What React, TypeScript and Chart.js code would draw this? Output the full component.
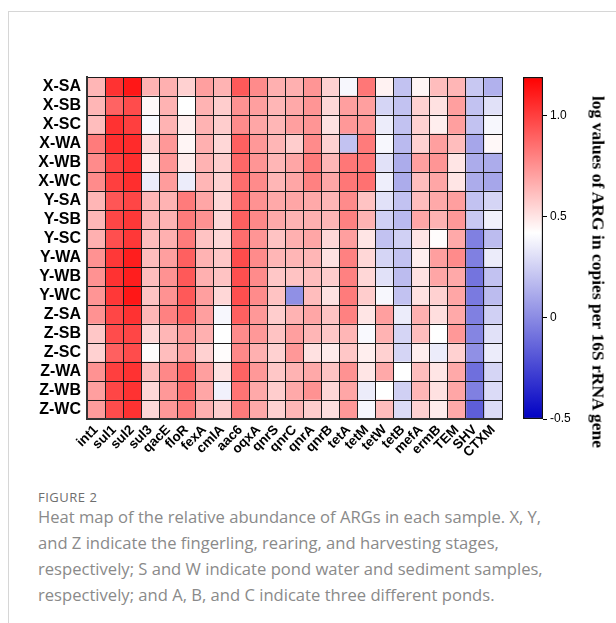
import React, { useEffect, useRef } from 'react';
import { Chart, registerables } from 'chart.js';

Chart.register(...registerables);

// ---- Data -----------------------------------------------------------------
const SAMPLES = ['X-SA', 'X-SB', 'X-SC', 'X-WA', 'X-WB', 'X-WC', 'Y-SA', 'Y-SB', 'Y-SC', 'Y-WA', 'Y-WB', 'Y-WC', 'Z-SA', 'Z-SB', 'Z-SC', 'Z-WA', 'Z-WB', 'Z-WC'];
const GENES = ['int1', 'sul1', 'sul2', 'sul3', 'qacE', 'floR', 'fexA', 'cmlA', 'aac6', 'oqxA', 'qnrS', 'qnrC', 'qnrA', 'qnrB', 'tetA', 'tetM', 'tetW', 'tetB', 'mefA', 'ermB', 'TEM', 'SHV', 'CTXM'];

// log values per sample (one array per row, in GENES order)
const X_SA = [0.64, 1.04, 1.12, 0.65, 0.66, 0.56, 0.71, 0.65, 0.92, 0.77, 0.66, 0.66, 0.74, 0.56, 0.39, 0.83, 0.46, 0.20, 0.45, 0.62, 0.64, 0.22, 0.14];
const X_SB = [0.64, 0.89, 0.96, 0.44, 0.65, 0.42, 0.65, 0.57, 0.75, 0.71, 0.64, 0.68, 0.74, 0.54, 0.71, 0.71, 0.27, 0.20, 0.56, 0.51, 0.71, 0.20, 0.31];
const X_SC = [0.62, 1.04, 1.00, 0.40, 0.65, 0.47, 0.65, 0.57, 0.77, 0.69, 0.64, 0.71, 0.74, 0.51, 0.73, 0.73, 0.35, 0.20, 0.56, 0.47, 0.71, 0.20, 0.39];
const X_WA = [0.82, 1.05, 1.06, 0.53, 0.73, 0.45, 0.66, 0.54, 0.90, 0.73, 0.64, 0.57, 0.77, 0.56, 0.20, 0.82, 0.39, 0.17, 0.56, 0.71, 0.62, 0.10, 0.44];
const X_WB = [0.77, 0.99, 1.05, 0.47, 0.74, 0.48, 0.65, 0.57, 0.88, 0.74, 0.64, 0.69, 0.82, 0.64, 0.83, 0.83, 0.31, 0.12, 0.71, 0.74, 0.50, 0.12, 0.12];
const X_WC = [0.77, 1.00, 1.05, 0.35, 0.72, 0.35, 0.64, 0.56, 0.86, 0.77, 0.64, 0.69, 0.80, 0.69, 0.83, 0.85, 0.36, 0.12, 0.62, 0.69, 0.50, 0.12, 0.10];
const Y_SA = [0.64, 0.93, 0.98, 0.64, 0.65, 0.82, 0.69, 0.54, 0.86, 0.75, 0.68, 0.69, 0.68, 0.64, 0.77, 0.60, 0.31, 0.20, 0.62, 0.68, 0.71, 0.20, 0.27];
const Y_SB = [0.64, 0.98, 1.02, 0.64, 0.65, 0.82, 0.75, 0.54, 0.90, 0.78, 0.68, 0.65, 0.66, 0.64, 0.80, 0.65, 0.25, 0.17, 0.69, 0.65, 0.73, 0.22, 0.37];
const Y_SC = [0.66, 0.95, 1.02, 0.62, 0.66, 0.82, 0.60, 0.54, 0.86, 0.74, 0.60, 0.66, 0.69, 0.54, 0.71, 0.50, 0.20, 0.25, 0.50, 0.43, 0.68, -0.04, 0.18];
const Y_WA = [0.75, 1.02, 1.10, 0.62, 0.71, 0.90, 0.65, 0.59, 0.96, 0.77, 0.64, 0.64, 0.64, 0.51, 0.80, 0.54, 0.27, 0.20, 0.47, 0.71, 0.77, -0.04, 0.35];
const Y_WB = [0.75, 1.04, 1.10, 0.62, 0.75, 0.92, 0.66, 0.60, 0.95, 0.77, 0.59, 0.60, 0.62, 0.57, 0.80, 0.54, 0.31, 0.18, 0.51, 0.69, 0.68, -0.08, 0.20];
const Y_WC = [0.74, 1.02, 1.12, 0.60, 0.75, 0.92, 0.71, 0.54, 0.95, 0.77, 0.60, 0.02, 0.62, 0.51, 0.82, 0.57, 0.39, 0.20, 0.51, 0.56, 0.69, -0.06, 0.18];
const Z_SA = [0.75, 0.98, 1.04, 0.64, 0.80, 0.89, 0.71, 0.39, 0.90, 0.73, 0.57, 0.65, 0.69, 0.60, 0.80, 0.50, 0.71, 0.35, 0.66, 0.52, 0.68, -0.04, 0.25];
const Z_SB = [0.59, 0.96, 0.98, 0.54, 0.64, 0.73, 0.66, 0.42, 0.77, 0.73, 0.60, 0.71, 0.64, 0.59, 0.64, 0.40, 0.65, 0.27, 0.62, 0.42, 0.73, -0.02, 0.31];
const Z_SC = [0.56, 0.90, 0.96, 0.43, 0.62, 0.71, 0.56, 0.43, 0.78, 0.66, 0.56, 0.73, 0.51, 0.48, 0.59, 0.47, 0.56, 0.27, 0.47, 0.35, 0.56, 0.02, 0.35];
const Z_WA = [0.75, 1.00, 1.04, 0.62, 0.78, 0.89, 0.71, 0.51, 0.89, 0.73, 0.59, 0.65, 0.68, 0.60, 0.75, 0.50, 0.68, 0.42, 0.62, 0.50, 0.68, -0.10, 0.27];
const Z_WB = [0.71, 0.98, 1.04, 0.54, 0.73, 0.86, 0.69, 0.37, 0.84, 0.68, 0.57, 0.68, 0.75, 0.54, 0.69, 0.35, 0.42, 0.25, 0.64, 0.51, 0.69, -0.04, 0.29];
const Z_WC = [0.72, 0.96, 1.04, 0.54, 0.73, 0.82, 0.66, 0.57, 0.82, 0.68, 0.56, 0.64, 0.57, 0.52, 0.73, 0.39, 0.62, 0.29, 0.56, 0.48, 0.68, -0.16, 0.29];

const ROWS = [X_SA, X_SB, X_SC, X_WA, X_WB, X_WC, Y_SA, Y_SB, Y_SC, Y_WA, Y_WB, Y_WC, Z_SA, Z_SB, Z_SC, Z_WA, Z_WB, Z_WC];

// colour scale
const SCALE_MIN = -0.5;
const SCALE_MID = 0.42;
const SCALE_MAX = 1.19;
const COLOR_TICKS = [-0.5, 0, 0.5, 1.0];
const COLOR_TICK_LABELS = ['-0.5', '0', '0.5', '1.0'];
const COLORBAR_TITLE = 'log values of ARG in copies per 16S rRNA gene';

const LOW_RGB = [0, 0, 195];
const MID_RGB = [255, 255, 255];
const HIGH_RGB = [255, 0, 0];

function mix(a: number[], b: number[], t: number) {
  const c = a.map((v, i) => Math.round(v + (b[i] - v) * t));
  return `rgb(${c[0]},${c[1]},${c[2]})`;
}

function colorFor(v: number) {
  if (v >= SCALE_MID) {
    const t = Math.min(1, (v - SCALE_MID) / (SCALE_MAX - SCALE_MID));
    return mix(MID_RGB, HIGH_RGB, t);
  }
  const t = Math.min(1, (SCALE_MID - v) / (SCALE_MID - SCALE_MIN));
  return mix(MID_RGB, LOW_RGB, t);
}

const LABEL_FONT = "'Liberation Sans', Arial, Helvetica, sans-serif";

export default function App() {
  const heatRef = useRef<HTMLCanvasElement | null>(null);
  const barRef = useRef<HTMLCanvasElement | null>(null);

  useEffect(() => {
    if (!heatRef.current || !barRef.current) return;

    const datasets = GENES.map((gene, j) => ({
      label: gene,
      data: ROWS.map((row, i) => ({ x: [j, j + 1], y: SAMPLES[i], v: row[j] })),
      backgroundColor: (ctx: any) => colorFor(ctx.raw ? ctx.raw.v : 0),
      borderWidth: 0,
      barPercentage: 1,
      categoryPercentage: 1,
      grouped: false,
      xAxisID: 'x',
      yAxisID: 'y',
    }));

    const gridOpts = { display: true, offset: true, color: '#1c1c1c', lineWidth: 1, drawTicks: false, z: 1 };
    const borderOpts = { display: true, color: '#333', width: 2, z: 2 };

    const heat = new Chart(heatRef.current, {
      type: 'bar',
      data: { labels: SAMPLES, datasets: datasets as any },
      options: {
        indexAxis: 'y',
        responsive: false,
        animation: false,
        devicePixelRatio: 1,
        layout: { padding: { top: 77, right: 8, left: 0, bottom: 0 } },
        plugins: { legend: { display: false }, tooltip: { enabled: false } },
        scales: {
          x: { type: 'linear', min: 0, max: GENES.length, display: false },
          gx: {
            type: 'category',
            labels: GENES,
            position: 'bottom',
            offset: true,
            grid: gridOpts,
            border: borderOpts,
            ticks: {
              autoSkip: false,
              maxRotation: 45,
              minRotation: 45,
              padding: 3,
              color: '#000',
              font: { family: LABEL_FONT, weight: 'bold', size: 13.5 },
            },
            afterFit: (s: any) => { s.height = 61; },
          },
          y: {
            type: 'category',
            labels: SAMPLES,
            offset: true,
            grid: gridOpts,
            border: borderOpts,
            ticks: {
              autoSkip: false,
              padding: 6,
              color: '#000',
              font: { family: LABEL_FONT, weight: 'bold', size: 16 },
            },
            afterFit: (s: any) => { s.width = 87; },
          },
        } as any,
      },
    });

    const bar = new Chart(barRef.current, {
      type: 'bar',
      data: {
        labels: [''],
        datasets: [{
          data: [[SCALE_MIN, SCALE_MAX]] as any,
          backgroundColor: (ctx: any) => {
            const chart = ctx.chart;
            if (!chart.chartArea) return 'transparent';
            const ys = chart.scales.y;
            const g = chart.ctx.createLinearGradient(0, ys.getPixelForValue(SCALE_MIN), 0, ys.getPixelForValue(SCALE_MAX));
            const midStop = (SCALE_MID - SCALE_MIN) / (SCALE_MAX - SCALE_MIN);
            g.addColorStop(0, mix(LOW_RGB, LOW_RGB, 0));
            g.addColorStop(midStop, mix(MID_RGB, MID_RGB, 0));
            g.addColorStop(1, mix(HIGH_RGB, HIGH_RGB, 0));
            return g;
          },
          borderColor: '#111',
          borderWidth: 1.5,
          borderSkipped: false,
          barPercentage: 1,
          categoryPercentage: 1,
        }],
      },
      options: {
        responsive: false,
        animation: false,
        devicePixelRatio: 1,
        layout: { padding: { top: 77, bottom: 61, left: 18, right: 0 } },
        plugins: { legend: { display: false }, tooltip: { enabled: false } },
        scales: {
          x: { display: false },
          y: {
            position: 'right',
            min: SCALE_MIN,
            max: SCALE_MAX,
            afterBuildTicks: (s: any) => { s.ticks = COLOR_TICKS.map((v) => ({ value: v })); },
            ticks: {
              padding: 3,
              color: '#000',
              font: { family: LABEL_FONT, size: 12 },
              callback: (v: any) => COLOR_TICK_LABELS[COLOR_TICKS.indexOf(Number(v))] ?? String(v),
            },
            grid: { drawOnChartArea: false, drawTicks: true, tickLength: 4, color: '#000', lineWidth: 1 },
            border: { display: false },
            afterFit: (s: any) => { s.width = 73; },
          },
        } as any,
      },
    });

    return () => {
      heat.destroy();
      bar.destroy();
    };
  }, []);

  return (
    <div style={{ position: 'absolute', left: 0, top: 0, width: 616, height: 623, background: '#fff', overflow: 'hidden' }}>
      <div style={{ position: 'absolute', left: 8, top: 11, width: 640, height: 640, borderLeft: '1px solid #d6d6d6', borderTop: '1px solid #d6d6d6' }} />
      <canvas ref={heatRef} width={510} height={480} style={{ position: 'absolute', left: 0, top: 0, width: 510, height: 480 }} />
      <canvas ref={barRef} width={111} height={480} style={{ position: 'absolute', left: 505, top: 0, width: 111, height: 480 }} />
      <div
        style={{
          position: 'absolute',
          left: 598,
          top: 272,
          transform: 'translate(-50%, -50%) rotate(90deg)',
          whiteSpace: 'nowrap',
          fontFamily: "'Liberation Serif', 'Times New Roman', serif",
          fontWeight: 'bold',
          fontSize: 17.5,
          color: '#000',
        }}
      >
        {COLORBAR_TITLE}
      </div>
      <div style={{ position: 'absolute', left: 38, top: 488, fontFamily: "'Open Sans', sans-serif", fontSize: 13, letterSpacing: 0.5, color: '#6e6e6e' }}>
        FIGURE 2
      </div>
      <div style={{ position: 'absolute', left: 38, top: 504, width: 578, fontFamily: "'Open Sans', sans-serif", fontSize: 16.6, lineHeight: '26px', color: '#8a8a8a', whiteSpace: 'nowrap' }}>
        Heat map of the relative abundance of ARGs in each sample. X, Y,<br />
        and Z indicate the fingerling, rearing, and harvesting stages,<br />
        respectively; S and W indicate pond water and sediment samples,<br />
        respectively; and A, B, and C indicate three different ponds.
      </div>
    </div>
  );
}
